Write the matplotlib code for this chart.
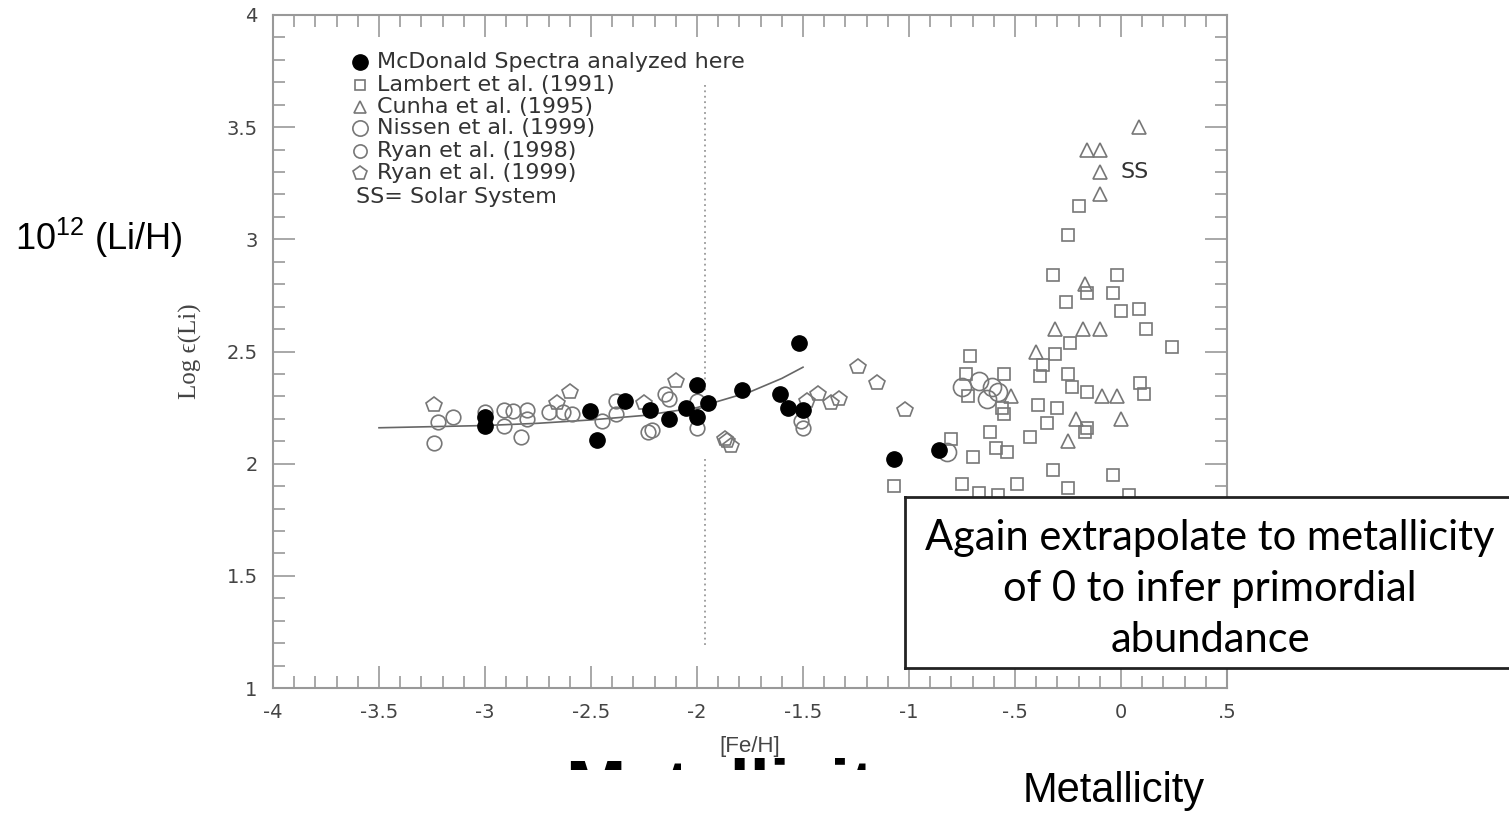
import matplotlib
matplotlib.use("Agg")
from matplotlib import pyplot as plt
from matplotlib.transforms import Bbox

# McDonald spectra (filled circles)
mcd_feh = [-3.0, -3.0, -2.505, -2.47, -2.34, -2.22, -2.13, -2.05, -2.0, -2.0,
           -1.95, -1.79, -1.61, -1.57, -1.50, -1.52, -1.07, -0.86]
mcd_li = [2.21, 2.17, 2.235, 2.105, 2.28, 2.24, 2.20, 2.25, 2.35, 2.21,
          2.27, 2.33, 2.31, 2.25, 2.24, 2.54, 2.02, 2.06]

# Lambert et al. (1991) squares
lam_feh = [-0.71, -0.73, -0.55, -0.72, -0.55, -0.56, -0.62, -0.59, -0.54, -0.80,
           -0.70, -1.07, -0.75, -0.67, -0.58, -0.49, -0.43, -0.39, -0.38, -0.37,
           -0.31, -0.35, -0.30, -0.24, -0.25, -0.23, -0.16, -0.17, -0.16, -0.32,
           -0.25, -0.04, 0.04, 0.12, 0.24, 0.09, 0.11, -0.20, -0.25, -0.32,
           -0.26, -0.16, -0.02, -0.04, 0.0, 0.085]
lam_li = [2.48, 2.40, 2.40, 2.30, 2.22, 2.25, 2.14, 2.07, 2.05, 2.11,
          2.03, 1.90, 1.91, 1.87, 1.86, 1.91, 2.12, 2.26, 2.39, 2.44,
          2.49, 2.18, 2.25, 2.54, 2.40, 2.34, 2.32, 2.14, 2.16, 1.97,
          1.89, 1.95, 1.86, 2.60, 2.52, 2.36, 2.31, 3.15, 3.02, 2.84,
          2.72, 2.76, 2.84, 2.76, 2.68, 2.69]

# Cunha et al. (1995) triangles
cun_feh = [0.085, -0.16, -0.10, -0.10, -0.10, -0.17, -0.31, -0.18, -0.10, -0.40,
           -0.09, -0.02, -0.21, 0.0, -0.25, -0.52]
cun_li = [3.50, 3.40, 3.40, 3.30, 3.20, 2.80, 2.60, 2.60, 2.60, 2.50,
          2.30, 2.30, 2.20, 2.20, 2.10, 2.30]

# Nissen et al. (1999) circles
nis_feh = [-0.75, -0.67, -0.61, -0.63, -0.82, -0.58]
nis_li = [2.34, 2.37, 2.34, 2.29, 2.05, 2.32]

# Ryan et al. (1998) circles
r98_feh = [-3.22, -3.15, -3.24, -3.0, -2.91, -2.87, -2.91, -2.83, -2.80, -2.80,
           -2.70, -2.63, -2.59, -2.45, -2.38, -2.38, -2.23, -2.15, -2.13, -2.21,
           -2.0, -1.51, -1.50, -2.0]
r98_li = [2.185, 2.21, 2.09, 2.23, 2.24, 2.235, 2.17, 2.12, 2.24, 2.20,
          2.23, 2.23, 2.22, 2.19, 2.28, 2.22, 2.14, 2.31, 2.29, 2.15,
          2.16, 2.19, 2.16, 2.28]

# Ryan et al. (1999) pentagons
r99_feh = [-3.24, -2.66, -2.60, -2.25, -2.10, -1.87, -1.84, -1.86, -1.43, -1.48,
           -1.37, -1.33, -1.24, -1.15, -1.02]
r99_li = [2.26, 2.27, 2.32, 2.27, 2.37, 2.11, 2.08, 2.10, 2.31, 2.28,
          2.27, 2.29, 2.43, 2.36, 2.24]

# fit curve
fit_feh = [-3.5, -3.25, -3.0, -2.75, -2.5, -2.25, -2.0, -1.75, -1.6, -1.5]
fit_li = [2.16, 2.165, 2.17, 2.18, 2.195, 2.215, 2.25, 2.32, 2.38, 2.43]

xtick_vals = [-4, -3.5, -3, -2.5, -2, -1.5, -1, -0.5, 0, 0.5]
xtick_labels = ["-4", "-3.5", "-3", "-2.5", "-2", "-1.5", "-1", "-.5", "0", ".5"]
ytick_vals = [1, 1.5, 2, 2.5, 3, 3.5, 4]
ytick_labels = ["1", "1.5", "2", "2.5", "3", "3.5", "4"]

legend_labels = ["McDonald Spectra analyzed here", "Lambert et al. (1991)",
                 "Cunha et al. (1995)", "Nissen et al. (1999)",
                 "Ryan et al. (1998)", "Ryan et al. (1999)"]

grey = "#777777"
txtc = "#333333"

fig = plt.figure(figsize=(15.09, 8.14), dpi=100)
ax = fig.add_axes([273/1509, 1-688/814, 954/1509, 673/814])

# dotted line at [Fe/H] ~ -2
ax.plot([-1.96, -1.96], [3.69, 2.32], ls=(0, (1, 2)), color="#999999", lw=1.3)
ax.plot([-1.96, -1.96], [2.02, 1.19], ls=(0, (1, 2)), color="#999999", lw=1.3)

ax.plot(fit_feh, fit_li, color="#666666", lw=1.2, zorder=2)

op = dict(ls="none", mfc="none", mec=grey, mew=1.2)
ax.plot(lam_feh, lam_li, marker="s", ms=9, **op)
ax.plot(cun_feh, cun_li, marker="^", ms=10, **op)
ax.plot(nis_feh, nis_li, marker="o", ms=13, **op)
ax.plot(r98_feh, r98_li, marker="o", ms=10.5, **op)
ax.plot(r99_feh, r99_li, marker="p", ms=11.5, **op)
ax.plot(mcd_feh, mcd_li, ls="none", marker="o", ms=11, color="black", zorder=5)

# legend drawn by hand
leg_y = [3.79, 3.69, 3.59, 3.495, 3.395, 3.295]
leg_style = [dict(marker="o", ms=11, color="black"),
             dict(marker="s", ms=7.5, **op),
             dict(marker="^", ms=8.5, **op),
             dict(marker="o", ms=11, **op),
             dict(marker="o", ms=9.5, **op),
             dict(marker="p", ms=10, **op)]
for yy, lab, st in zip(leg_y, legend_labels, leg_style):
    ax.plot([-3.59], [yy], **st)
    ax.text(-3.51, yy, lab, fontsize=16, color=txtc, va="center", ha="left")
ax.text(-3.61, 3.19, "SS= Solar System", fontsize=16, color=txtc, va="center", ha="left")
ax.text(0.0, 3.30, "SS", fontsize=16, color=txtc, va="center", ha="left")

ax.set_xlim(-4, 0.5)
ax.set_ylim(1, 4)
ax.set_xticks(xtick_vals, xtick_labels)
ax.set_yticks(ytick_vals, ytick_labels)
ax.set_xticks([v / 10 for v in range(-40, 6)], minor=True)
ax.set_yticks([v / 10 for v in range(10, 41)], minor=True)
ax.tick_params(which="both", direction="in", top=True, right=True, color="#999999", width=1.2)
ax.tick_params(which="major", length=16, labelsize=14, labelcolor="#444444", pad=11)
ax.tick_params(which="minor", length=8.5)
for s in ax.spines.values():
    s.set_color("#999999")
    s.set_linewidth(1.5)

ax.set_xlabel("[Fe/H]", fontsize=16, color="#444444", labelpad=10,
              family=["Liberation Sans Narrow", "Liberation Sans"])
ax.set_ylabel("Log \u03f5(Li)", fontsize=18, color="#444444", labelpad=18,
              family=["Liberation Serif", "DejaVu Serif"])

fig.text(15/1509, 1-238/814, r"10$^{\mathregular{12}}$ (Li/H)", fontsize=26,
         family="Liberation Sans", va="center", ha="left")
fig.text(1023/1509, 1-791/814, "Metallicity", fontsize=30,
         family=["Liberation Sans Narrow", "Liberation Sans"], va="center", ha="left")

# cut-off big title under the axis
big = fig.text(565/1509, (814-811)/814, "Metallicity", fontsize=52, weight="bold",
               family="Liberation Sans", va="baseline", ha="left")
big.set_clip_box(Bbox([[0, 814-770], [1509, 814-757]]))
big.set_clip_on(True)

# annotation box
box = fig.add_axes([905/1509, 1-668/814, 0.42, (668-497)/814], zorder=10)
box.set_xticks([])
box.set_yticks([])
for s in box.spines.values():
    s.set_color("#222222")
    s.set_linewidth(2)
fig.text(1210/1509, 1-589/814, "Again extrapolate to metallicity\nof 0 to infer primordial\nabundance",
         fontsize=30, family="Lato", ha="center", va="center", linespacing=1.42, zorder=11)

fig.savefig("out.png", dpi=100)
